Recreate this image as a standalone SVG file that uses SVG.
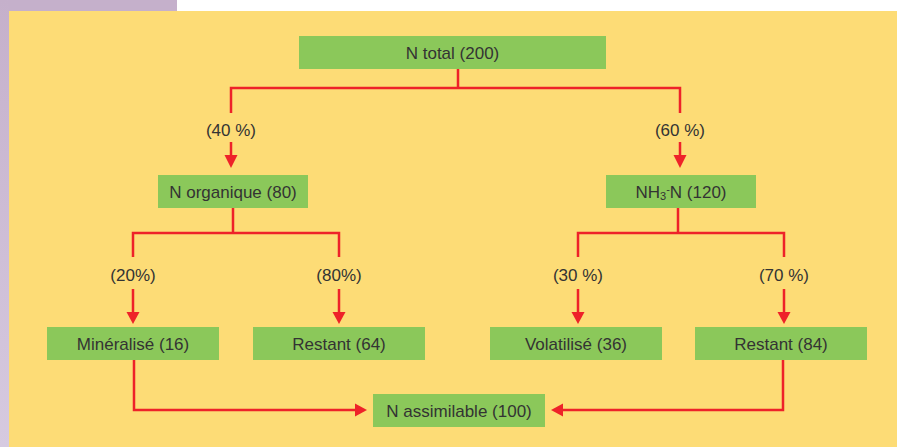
<svg xmlns="http://www.w3.org/2000/svg" width="897" height="447" viewBox="0 0 897 447">
<style>
.box{fill:#8BC85A}
.t{font-family:"Liberation Sans",Arial,sans-serif;font-size:17px;fill:#333;text-anchor:middle}
.ln{fill:none;stroke:#EE2229;stroke-width:2.5}
.ah{fill:#EE2229}
</style>
<defs>
<linearGradient id="pg" x1="0" y1="0" x2="0" y2="1">
<stop offset="0" stop-color="#C5B0CB"/>
<stop offset="1" stop-color="#D6CAE0"/>
</linearGradient>
</defs>
<rect x="0" y="0" width="897" height="447" fill="#FFFFFF"/>
<rect x="0" y="0" width="177" height="11" fill="#C5B0CB"/>
<rect x="0" y="0" width="9" height="447" fill="url(#pg)"/>
<rect x="9" y="11" width="888" height="436" fill="#FDDC76"/>

<g id="connectors">
<polyline class="ln" points="458,69 458,88"/>
<polyline class="ln" points="231,113 231,88 680,88 680,113"/>
<polyline class="ln" points="231,142 231,158"/>
<polyline class="ln" points="680,142 680,158"/>
<polygon class="ah" points="224.5,155 237.5,155 231,168"/>
<polygon class="ah" points="673.5,155 686.5,155 680,168"/>

<polyline class="ln" points="233,208 233,233"/>
<polyline class="ln" points="133,257 133,233 339,233 339,257"/>
<polyline class="ln" points="133,289 133,315"/>
<polyline class="ln" points="339,289 339,315"/>
<polygon class="ah" points="126.5,312 139.5,312 133,324"/>
<polygon class="ah" points="332.5,312 345.5,312 339,324"/>

<polyline class="ln" points="678,208 678,233"/>
<polyline class="ln" points="578,257 578,233 784,233 784,257"/>
<polyline class="ln" points="578,289 578,315"/>
<polyline class="ln" points="784,289 784,315"/>
<polygon class="ah" points="571.5,312 584.5,312 578,324"/>
<polygon class="ah" points="777.5,312 790.5,312 784,324"/>

<polyline class="ln" points="134,360 134,410 358,410"/>
<polygon class="ah" points="355,403.5 355,416.5 367,410"/>
<polyline class="ln" points="783,360 783,410 560,410"/>
<polygon class="ah" points="563,403.5 563,416.5 551,410"/>

<text class="t" x="231" y="136">(40 %)</text>
<text class="t" x="680" y="136">(60 %)</text>
<text class="t" x="133" y="281">(20%)</text>
<text class="t" x="339" y="281">(80%)</text>
<text class="t" x="578" y="281">(30 %)</text>
<text class="t" x="784" y="281">(70 %)</text>
</g>

<g id="n-total">
<rect class="box" x="299" y="36" width="307" height="33"/>
<text class="t" x="452.5" y="58.5">N total (200)</text>
</g>
<g id="n-organique">
<rect class="box" x="158" y="175" width="150" height="33"/>
<text class="t" x="233" y="197.5">N organique (80)</text>
</g>
<g id="nh3-n">
<rect class="box" x="606" y="175" width="150" height="33"/>
<text class="t" x="681" y="197.5">NH<tspan font-size="11" dy="2">3</tspan><tspan font-size="11" dy="-7">-</tspan><tspan dy="5">N (120)</tspan></text>
</g>
<g id="mineralise">
<rect class="box" x="47" y="327" width="172" height="33"/>
<text class="t" x="133" y="349.5">Minéralisé (16)</text>
</g>
<g id="restant-64">
<rect class="box" x="253" y="327" width="172" height="33"/>
<text class="t" x="339" y="349.5">Restant (64)</text>
</g>
<g id="volatilise">
<rect class="box" x="490" y="327" width="172" height="33"/>
<text class="t" x="576" y="349.5">Volatilisé (36)</text>
</g>
<g id="restant-84">
<rect class="box" x="695" y="327" width="172" height="33"/>
<text class="t" x="781" y="349.5">Restant (84)</text>
</g>
<g id="n-assimilable">
<rect class="box" x="373" y="394" width="172" height="33"/>
<text class="t" x="459" y="416.5">N assimilable (100)</text>
</g>
</svg>
